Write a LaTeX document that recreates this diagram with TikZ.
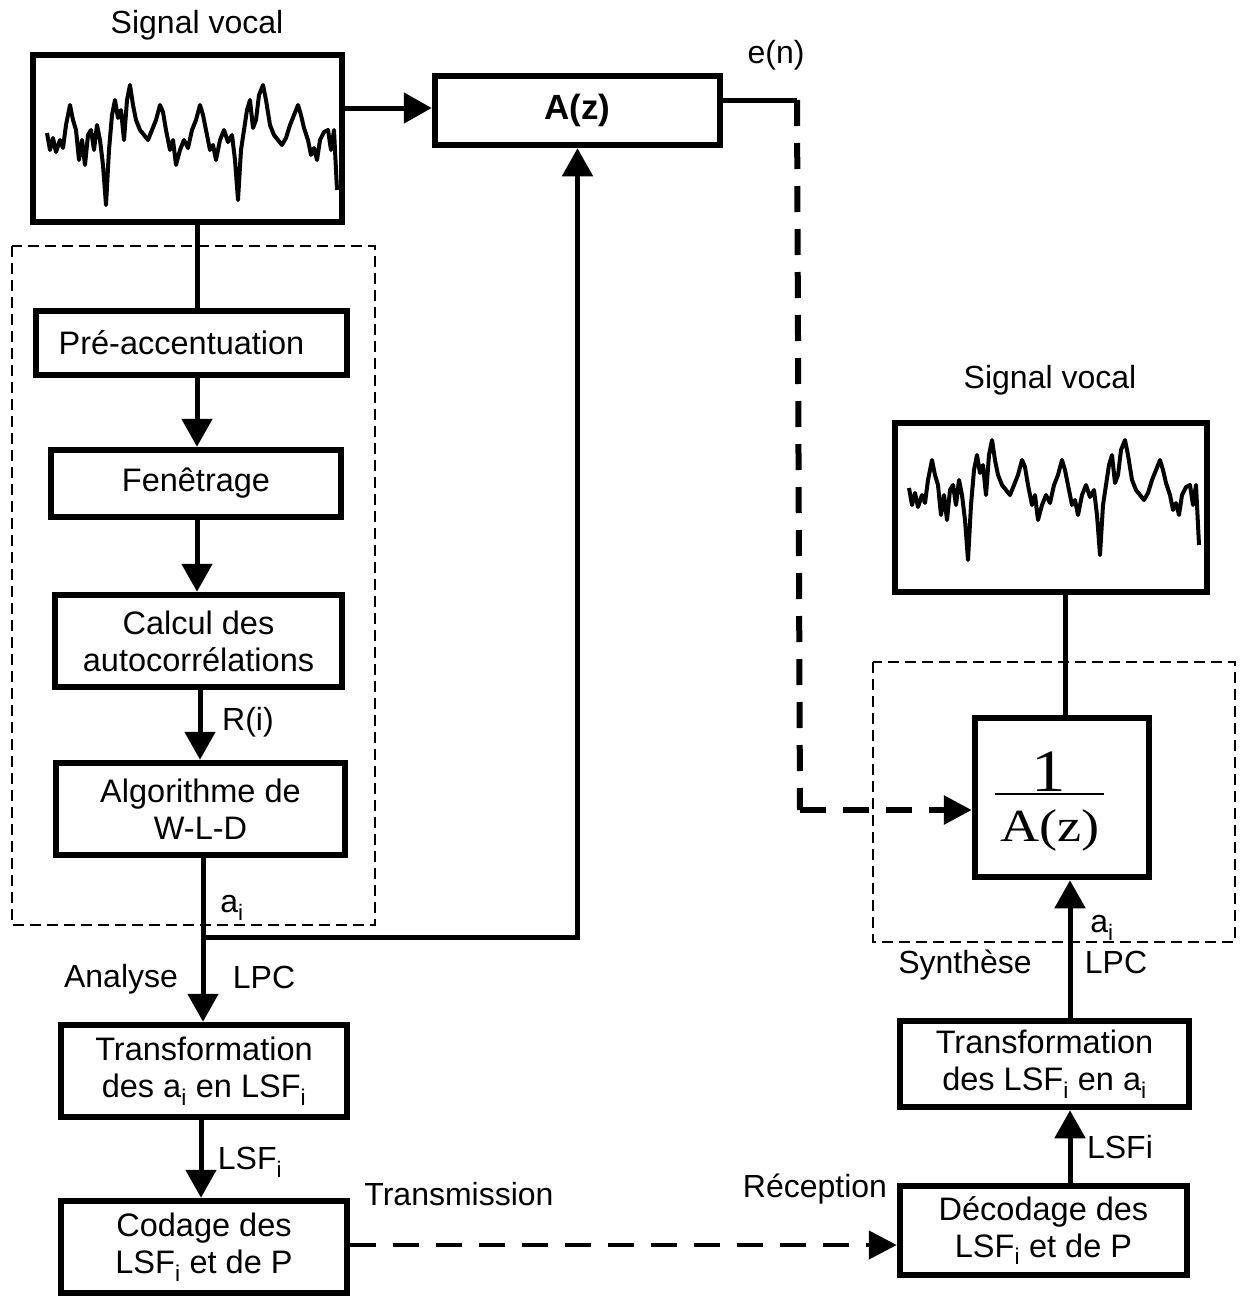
\documentclass[tikz,border=0pt]{standalone}
\usepackage{fontspec}
\usepackage{graphicx}
\setmainfont{Liberation Sans}
\newfontfamily\seriffam{Liberation Serif}
\usetikzlibrary{arrows.meta,calc}
\tikzset{
 blk/.style={draw, line width=6.5pt, inner sep=0pt, align=center, font=\fontsize{32.5}{37}\selectfont},
 arr/.style={line width=5pt, -{Triangle[length=28pt,width=30pt]}},
 ln/.style={line width=5pt},
 thindash/.style={line width=2pt, dash pattern=on 11pt off 6pt},
 thickdash/.style={line width=6pt, dash pattern=on 26pt off 17pt},
 lbl/.style={font=\fontsize{32}{36}\selectfont, inner sep=0pt},
 wave/.style={line width=4pt, line join=round},
}
\newcommand{\wavecurve}{plot coordinates {(47,133) (50,150) (53,138) (56,152) (60,140) (63,148) (66,125) (70,105) (73,120) (76,130) (79,160) (82,140) (85,165) (88,135) (91,130) (94,150) (97,125) (100,140) (103,165) (106,205) (109,150) (112,115) (115,100) (118,118) (121,110) (124,140) (127,100) (130,85) (133,105) (136,120) (140,130) (144,135) (148,140) (152,130) (156,120) (160,105) (163,112) (166,130) (170,150) (173,140) (176,165) (180,150) (184,140) (188,148) (192,130) (196,120) (200,105) (203,115) (206,130) (210,150) (213,145) (216,160) (220,140) (224,130) (228,142) (232,135) (235,160) (238,200) (241,150) (244,130) (247,110) (250,100) (253,128) (256,120) (259,95) (263,85) (266,100) (270,125) (274,135) (278,140) (282,145) (286,138) (290,125) (294,115) (298,105) (301,115) (304,128) (308,140) (311,155) (314,148) (317,160) (320,140) (324,132) (328,130) (331,150) (334,130) (337,190)}}
\begin{document}
\begin{tikzpicture}[x=1pt,y=-1pt]
\useasboundingbox (0,0) rectangle (1242,1299);
% dashed frames
\draw[thindash] (12,246) rectangle (375,925);
\draw[thindash] (873,662) rectangle (1235,942);
% boxes
\node[blk, minimum width=309pt, minimum height=167pt] (wavL) at (187.5,138.5) {};
\node[blk, minimum width=285pt, minimum height=69pt, font=\bfseries\fontsize{35}{38}\selectfont] (Az) at (577.5,110.5) {A(z)};
\node[blk, minimum width=311pt, minimum height=64pt] (pre) at (191.5,343) {\hspace*{-20pt}Pré-accentuation};
\node[blk, minimum width=290pt, minimum height=67pt] (fen) at (196,483.5) {Fenêtrage};
\node[blk, minimum width=287pt, minimum height=92pt] (cal) at (198.5,641) {Calcul des\\autocorrélations};
\node[blk, minimum width=289pt, minimum height=92pt] (alg) at (200.5,809) {Algorithme de\\W-L-D};
\node[blk, minimum width=286pt, minimum height=92pt] (trL) at (204,1071) {Transformation\\des a\textsubscript{i} en LSF\textsubscript{i}};
\node[blk, minimum width=286pt, minimum height=92pt] (cod) at (204,1247) {Codage des\\LSF\textsubscript{i} et de P};
\node[blk, minimum width=287pt, minimum height=89pt] (dec) at (1043.5,1230.5) {Décodage des\\LSF\textsubscript{i} et de P};
\node[blk, minimum width=289pt, minimum height=86pt] (trR) at (1044.5,1064) {Transformation\\des LSF\textsubscript{i} en a\textsubscript{i}};
\node[blk, minimum width=174pt, minimum height=159pt] (inv) at (1062,797.5) {};
\node[blk, minimum width=312pt, minimum height=169pt] (wavR) at (1051,507.5) {};
% fraction inside inv
\node[inner sep=0pt, anchor=base, font=\seriffam\fontsize{60}{60}\selectfont] (num) at (1049,791) {\scalebox{1.15}[1]{1}};
\draw[line width=2.5pt] (995,794) -- (1104,794);
\node[inner sep=0pt, anchor=base, font=\seriffam\fontsize{46}{46}\selectfont] (den) at (1050,841) {\scalebox{1.18}[1]{A(z)}};
% waveforms
\draw[wave] \wavecurve;
\begin{scope}[shift={(862,355)}]
\draw[wave] \wavecurve;
\end{scope}
% coordinates
\coordinate (junc) at (203,937);
\coordinate (etop) at (797,100);
\coordinate (ecorner) at (800,810);
% left column connectors
\draw[ln] (wavL.south -| 197,0) -- (pre.north -| 197,0);
\draw[arr] (pre.south -| 197,0) -- (fen.north -| 197,0);
\draw[arr] (fen.south -| 197,0) -- (cal.north -| 197,0);
\draw[arr] (cal.south -| 200,0) -- (alg.north -| 200,0);
\draw[arr] (alg.south -| 203,0) -- (trL.north -| 203,0);
\draw[arr] (trL.south -| 201,0) -- (cod.north -| 201,0);
\draw[arr] (junc) -| (Az.south);
\draw[arr] (wavL.east |- 0,108) -- (Az.west |- 0,108);
% e(n) path
\draw[ln] (Az.east |- etop) -- (etop);
\draw[thickdash] (etop) -- (ecorner);
\draw[thickdash, -{Triangle[length=28pt,width=28pt]}] (ecorner) -- (ecorner -| inv.west);
% transmission
\draw[thickdash, line width=4.5pt, -{Triangle[length=28pt,width=28pt]}] (cod.east |- 0,1245) -- (dec.west |- 0,1245);
% right column
\draw[arr] (dec.north -| 1070,0) -- (trR.south -| 1070,0);
\draw[arr] (trR.north -| 1070,0) -- (inv.south -| 1070,0);
\draw[ln] (inv.north -| 1065,0) -- (wavR.south -| 1065,0);
% labels
\node[lbl] (sv1) at (197,25) {Signal vocal};
\node[lbl] (sv2) at (1050,380) {Signal vocal};
\node[lbl] (en) at (776,55) {e(n)};
\node[lbl] (ri) at (248,722) {R(i)};
\node[lbl] (ai1) at (232,908) {a\textsubscript{i}};
\node[lbl] (ana) at (121,979) {Analyse};
\node[lbl] (lpc1) at (264,977) {LPC};
\node[lbl] (lsf1) at (250,1162) {LSF\textsubscript{i}};
\node[lbl] (trans) at (459,1194) {Transmission};
\node[lbl] (recep) at (815,1189) {Réception};
\node[lbl] (lsf2) at (1120,1147) {LSFi};
\node[lbl] (ai2) at (1102,928) {a\textsubscript{i}};
\node[lbl] (lpc2) at (1116,962) {LPC};
\node[lbl] (syn) at (965,965) {Synthèse};
\end{tikzpicture}
\end{document}
